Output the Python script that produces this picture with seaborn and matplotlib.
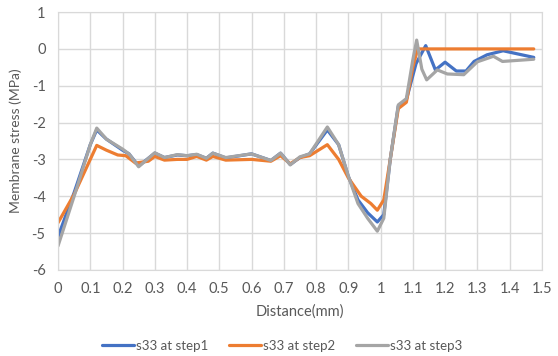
import numpy as np
import pandas as pd
import matplotlib
matplotlib.use('Agg')
import matplotlib.pyplot as plt
import seaborn as sns

# valores
x_step1 = [0.0, 0.05, 0.10, 0.12, 0.15, 0.20, 0.22, 0.25, 0.30, 0.33, 0.37, 0.40, 0.43, 0.46,
           0.48, 0.52, 0.60, 0.66, 0.69, 0.72, 0.75, 0.78, 0.835, 0.87, 0.90, 0.93, 0.96, 0.99,
           1.01, 1.03, 1.055, 1.08, 1.11, 1.14, 1.17, 1.20, 1.235, 1.265, 1.29, 1.33, 1.38, 1.475]
y_step1 = [-5.1, -3.9, -2.6, -2.2, -2.45, -2.75, -2.85, -3.18, -2.83, -2.95, -2.88, -2.9, -2.87, -2.97,
           -2.83, -2.96, -2.85, -3.03, -2.83, -3.14, -2.95, -2.85, -2.2, -2.6, -3.46, -4.1, -4.45, -4.7,
           -4.5, -3.0, -1.55, -1.38, -0.4, 0.09, -0.57, -0.36, -0.6, -0.6, -0.34, -0.16, -0.05, -0.23]

x_step2 = [0.0, 0.05, 0.10, 0.12, 0.15, 0.185, 0.21, 0.24, 0.28, 0.30, 0.33, 0.37, 0.40, 0.43, 0.46,
           0.48, 0.52, 0.60, 0.66, 0.69, 0.72, 0.75, 0.78, 0.835, 0.87, 0.90, 0.94, 0.97, 0.99,
           1.01, 1.03, 1.055, 1.08, 1.10, 1.115, 1.475]
y_step2 = [-4.72, -3.95, -3.0, -2.62, -2.75, -2.88, -2.9, -3.1, -3.05, -2.92, -3.02, -3.0, -3.0, -2.92, -3.02,
           -2.92, -3.02, -3.0, -3.05, -2.9, -3.12, -2.95, -2.9, -2.6, -3.0, -3.5, -4.0, -4.2, -4.38,
           -4.1, -3.0, -1.62, -1.45, -0.5, 0.0, 0.0]

x_step3 = [0.0, 0.05, 0.10, 0.12, 0.15, 0.20, 0.22, 0.25, 0.30, 0.33, 0.37, 0.40, 0.43, 0.46,
           0.48, 0.52, 0.60, 0.66, 0.69, 0.72, 0.75, 0.78, 0.835, 0.87, 0.90, 0.93, 0.96, 0.99,
           1.01, 1.03, 1.055, 1.08, 1.10, 1.112, 1.128, 1.143, 1.176, 1.207, 1.258, 1.30, 1.35, 1.378, 1.475]
y_step3 = [-5.35, -4.0, -2.6, -2.15, -2.45, -2.72, -2.85, -3.2, -2.82, -2.95, -2.87, -2.9, -2.86, -2.97,
           -2.83, -2.95, -2.85, -3.03, -2.83, -3.15, -2.93, -2.85, -2.12, -2.6, -3.45, -4.2, -4.6, -4.95,
           -4.6, -3.0, -1.52, -1.35, -0.3, 0.24, -0.55, -0.84, -0.57, -0.68, -0.7, -0.35, -0.2, -0.34, -0.28]

series = ['s33 at step1', 's33 at step2', 's33 at step3']
colores = ['#4472C4', '#ED7D31', '#A5A5A5']

df = pd.concat([
    pd.DataFrame({'x': x_step1, 'y': y_step1, 'serie': series[0]}),
    pd.DataFrame({'x': x_step2, 'y': y_step2, 'serie': series[1]}),
    pd.DataFrame({'x': x_step3, 'y': y_step3, 'serie': series[2]}),
])

sns.set_style('white')
plt.rcParams['font.family'] = ['Lato', 'DejaVu Sans']
plt.rcParams['axes.unicode_minus'] = False

fig, ax = plt.subplots(figsize=(5.58, 3.56), dpi=100)
fig.subplots_adjust(left=0.104, right=0.971, top=0.966, bottom=0.242)

sns.lineplot(data=df, x='x', y='y', hue='serie', palette=colores, sort=False,
             linewidth=2.3, ax=ax, legend=True)

ax.set_xlim(0, 1.5)
ax.set_ylim(-6, 1)
ax.set_xticks(np.arange(0, 1.51, 0.1))
ax.set_xticklabels(['0'] + [f'{v:.1f}' for v in np.arange(0.1, 0.95, 0.1)] + ['1'] +
                   [f'{v:.1f}' for v in np.arange(1.1, 1.55, 0.1)])
ax.set_yticks(range(-6, 2))
ax.grid(True, color='#D9D9D9', linewidth=1.0)
ax.set_axisbelow(True)
for s in ax.spines.values():
    s.set_color('#D9D9D9')
ax.tick_params(axis='both', length=0, labelsize=10.5, colors='#595959', pad=9)
ax.set_xlabel('Distance(mm)', fontsize=10.5, color='#595959', labelpad=6)
ax.set_ylabel('Membrane stress (MPa)', fontsize=10, color='#595959', labelpad=7)

ax.legend(loc='upper center', bbox_to_anchor=(0.463, -0.225), ncol=3, frameon=False,
          fontsize=9.5, labelcolor='#595959', handlelength=2.4, handletextpad=0.15,
          columnspacing=1.6)

fig.savefig('out.png', dpi=100)
